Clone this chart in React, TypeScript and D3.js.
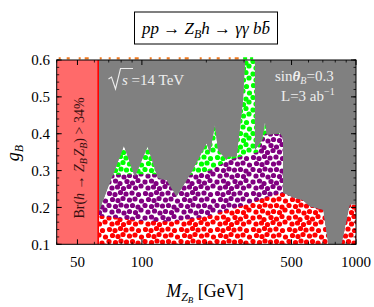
import React from 'react';
import * as d3 from 'd3';

// ---- data ----
const X_DOMAIN: [number, number] = [40, 1000];
const Y_DOMAIN: [number, number] = [0.1, 0.6];
const X_TICKS = [50, 100, 500, 1000];
const X_MINOR = [40, 60, 70, 80, 90, 200, 300, 400, 600, 700, 800, 900];
const Y_TICKS = [0.1, 0.2, 0.3, 0.4, 0.5, 0.6];
const BR_LIMIT = 62.5;

// upper edge of the non-excluded (white, dotted) region
const BOUNDARY_M = [62.5, 82.4, 92.7, 106.3, 118.8, 130.4, 145.3, 167.6, 200.6, 207.8, 219.4, 226.6, 248.7, 252.2, 277.1, 296.6, 303, 337.3, 337.3, 363.6, 375.7, 383.7, 441.6, 456, 456, 508, 559.5, 609.8, 701, 740, 857.5, 937.6, 1000];
const BOUNDARY_G = [0.182, 0.3675, 0.283, 0.365, 0.28, 0.274, 0.229, 0.288, 0.374, 0.348, 0.424, 0.356, 0.329, 0.338, 0.338, 0.49, 0.6, 0.6, 0.356, 0.383, 0.433, 0.3965, 0.402, 0.388, 0.239, 0.226, 0.22, 0.202, 0.193, 0.1, 0.1, 0.207, 0.207];

// top of purple band (green above)
const PURPLE_M = [62.5, 71, 88, 103, 121, 168, 208, 258, 320, 348, 363, 376, 441, 456, 1000];
const PURPLE_G = [0.288, 0.288, 0.29, 0.29, 0.29, 0.288, 0.3, 0.33, 0.345, 0.35, 0.38, 0.4, 0.4, 0.4, 0.4];

// top of red band (purple above)
const RED_M = [62.5, 80, 100, 130, 150, 200, 258, 320, 368, 428, 456, 456, 1000];
const RED_G = [0.178, 0.17, 0.163, 0.162, 0.165, 0.175, 0.195, 0.21, 0.225, 0.235, 0.24, 0.6, 0.6];

// ---- layout / style ----
const W = 374, H = 307;
const L = 56.7, R = 356, T = 60, B = 244.3;
const FONT = '"Liberation Serif", "DejaVu Serif", serif';
const GRAY = '#808080';
const DOT_TILE = 36;
const DOT_R = 2.6;
const DOT_LAYOUT = [
  [1, 2], [7.5, 1], [12, 3.5], [19, 1.5], [24.5, 3], [30, 0.5],
  [4, 8], [9.5, 7], [15.5, 8.5], [21, 6.5], [27.5, 8], [33, 6],
  [1.5, 13.5], [7, 14.5], [12.5, 12.5], [18, 14], [24, 13], [30.5, 14.5],
  [4.5, 19.5], [10, 20.5], [15, 18.5], [21.5, 20], [27, 19], [33.5, 21],
  [1, 25.5], [7.5, 26.5], [13, 25], [18.5, 26], [24.5, 25.5], [30, 27],
  [4, 32], [10.5, 31], [16, 33], [21.5, 31.5], [27.5, 32.5], [33, 30],
];

function DotPattern({ id, color }: { id: string; color: string }) {
  const circles: JSX.Element[] = [];
  DOT_LAYOUT.forEach(([cx, cy], i) => {
    for (const dx of [-DOT_TILE, 0, DOT_TILE])
      for (const dy of [-DOT_TILE, 0, DOT_TILE])
        circles.push(<circle key={`${i}-${dx}-${dy}`} cx={cx + dx} cy={cy + dy} r={DOT_R} fill={color} />);
  });
  return (
    <pattern id={id} width={DOT_TILE} height={DOT_TILE} patternUnits="userSpaceOnUse">
      <rect width={DOT_TILE} height={DOT_TILE} fill="#fff" />
      {circles}
    </pattern>
  );
}

export default function App() {
  const x = d3.scaleLog().domain(X_DOMAIN).range([L, R]);
  const y = d3.scaleLinear().domain(Y_DOMAIN).range([B, T]);
  const area = d3.area<[number, number]>().x(d => x(d[0])).y0(y(0.1)).y1(d => y(d[1]));
  const zip = (a: number[], b: number[]) => a.map((v, i) => [v, b[i]] as [number, number]);
  const boundary = area(zip(BOUNDARY_M, BOUNDARY_G)) || '';
  const purple = area(zip(PURPLE_M, PURPLE_G)) || '';
  const red = area(zip(RED_M, RED_G)) || '';
  const yMinor = d3.range(0.1, 0.6001, 0.02);

  return (
    <svg width={W} height={H} style={{ position: 'absolute', left: 0, top: 0, background: '#fff' }} fontFamily={FONT}>
      <defs>
        <DotPattern id="dotG" color="#00ff00" />
        <DotPattern id="dotP" color="#800080" />
        <DotPattern id="dotR" color="#ff0000" />
        <clipPath id="allowed"><path d={boundary} /></clipPath>
        <clipPath id="plot"><rect x={L} y={T} width={R - L} height={B - T} /></clipPath>
      </defs>

      {/* title */}
      <rect x={134.5} y={12} width={143} height={32} fill="none" stroke="#000" strokeWidth={1} />
      <text x={206} y={34} textAnchor="middle" fontSize={17}>
        <tspan fontStyle="italic">pp</tspan>
        <tspan>{' → '}</tspan>
        <tspan fontStyle="italic">Z</tspan>
        <tspan fontStyle="italic" fontSize={12} dy={4}>B</tspan>
        <tspan fontStyle="italic" dy={-4}>h</tspan>
        <tspan>{' → '}</tspan>
        <tspan fontStyle="italic">{'γγ b'}</tspan>
        <tspan fontStyle="italic">{'b\u0304'}</tspan>
      </text>

      {/* plot background and regions */}
      <rect x={L} y={T} width={R - L} height={B - T} fill={GRAY} />
      <g clipPath="url(#plot)">
        <g clipPath="url(#allowed)">
          <path d={boundary} fill="url(#dotG)" />
          <path d={purple} fill="url(#dotP)" />
          <path d={red} fill="url(#dotR)" />
        </g>
        <rect x={x(X_DOMAIN[0])} y={T} width={x(BR_LIMIT) - x(X_DOMAIN[0])} height={B - T} fill="#ff6a6a" />
        <line x1={x(BR_LIMIT)} x2={x(BR_LIMIT)} y1={T} y2={B} stroke="#ff0000" strokeWidth={1.6} />
      </g>

      {/* stray points along top edge */}
      <line x1={L + 2} x2={x(296)} y1={58.3} y2={58.3} stroke="#f07a20" strokeWidth={2.2} strokeDasharray="2 6 3 9 2 4 4 11 2 7" />
      <line x1={x(297)} x2={x(337)} y1={58.3} y2={58.3} stroke="#00ff00" strokeWidth={2.2} strokeDasharray="4 3 3 5" />

      {/* in-plot labels */}
      <text transform={`translate(${(x(X_DOMAIN[0]) + x(BR_LIMIT)) / 2 + 7},158) rotate(-90)`} textAnchor="middle" fontSize={14} fill="#3a1010">
        <tspan>Br(</tspan>
        <tspan fontStyle="italic">h</tspan>
        <tspan>{' → '}</tspan>
        <tspan fontStyle="italic">Z</tspan>
        <tspan fontStyle="italic" fontSize={10} dy={3}>B</tspan>
        <tspan fontStyle="italic" dy={-3} dx={1.5}>Z</tspan>
        <tspan fontStyle="italic" fontSize={10} dy={3}>B</tspan>
        <tspan dy={-3}>{') > 34%'}</tspan>
      </text>

      <path d="M108.5,79 L111.5,77 L115.5,89 L120.5,68.5 L133,68.5" fill="none" stroke="#eeeeee" strokeWidth={1.1} />
      <text x={122} y={85} fontSize={15} fill="#eeeeee">
        <tspan fontStyle="italic">s</tspan>
        <tspan>{' =14 TeV'}</tspan>
      </text>
      <text x={275} y={81} fontSize={15} fill="#eeeeee">
        <tspan>sin</tspan>
        <tspan fontStyle="italic" fontWeight="bold">θ</tspan>
        <tspan fontStyle="italic" fontSize={10} dy={3}>B</tspan>
        <tspan dy={-3}>=0.3</tspan>
      </text>
      <text x={281} y={101} fontSize={15} fill="#eeeeee">
        <tspan>L=3 ab</tspan>
        <tspan fontSize={10} dy={-6}>−1</tspan>
      </text>

      {/* frame */}
      <rect x={L} y={T} width={R - L} height={B - T} fill="none" stroke="#000" strokeWidth={1} />
      {yMinor.map((v, i) => (
        <g key={`ym${i}`}>
          <line x1={L} x2={L + 2.5} y1={y(v)} y2={y(v)} stroke="#000" strokeWidth={0.8} />
          <line x1={R} x2={R - 2.5} y1={y(v)} y2={y(v)} stroke="#000" strokeWidth={0.8} />
        </g>
      ))}
      {Y_TICKS.map(v => (
        <g key={`y${v}`}>
          <line x1={L} x2={L + 5} y1={y(v)} y2={y(v)} stroke="#000" strokeWidth={1} />
          <line x1={R} x2={R - 5} y1={y(v)} y2={y(v)} stroke="#000" strokeWidth={1} />
          <text x={50} y={y(v)} dy="0.35em" textAnchor="end" fontSize={15}>{v.toFixed(1)}</text>
        </g>
      ))}
      {X_MINOR.map(v => (
        <g key={`xm${v}`}>
          <line x1={x(v)} x2={x(v)} y1={B} y2={B - 2.5} stroke="#000" strokeWidth={0.8} />
          <line x1={x(v)} x2={x(v)} y1={T} y2={T + 2.5} stroke="#000" strokeWidth={0.8} />
        </g>
      ))}
      {X_TICKS.map(v => (
        <g key={`x${v}`}>
          <line x1={x(v)} x2={x(v)} y1={B} y2={B - 5} stroke="#000" strokeWidth={1} />
          <line x1={x(v)} x2={x(v)} y1={T} y2={T + 5} stroke="#000" strokeWidth={1} />
          <text x={x(v)} y={267} textAnchor="middle" fontSize={15}>{v}</text>
        </g>
      ))}

      {/* axis labels */}
      <text x={205} y={297} textAnchor="middle" fontSize={18}>
        <tspan fontStyle="italic">M</tspan>
        <tspan fontStyle="italic" fontSize={12} dy={4}>Z</tspan>
        <tspan fontStyle="italic" fontSize={9} dy={2}>B</tspan>
        <tspan dy={-6}>{' [GeV]'}</tspan>
      </text>
      <text transform="translate(19,153) rotate(-90)" textAnchor="middle" fontSize={18}>
        <tspan fontStyle="italic">g</tspan>
        <tspan fontStyle="italic" fontSize={12} dy={4}>B</tspan>
      </text>
    </svg>
  );
}
